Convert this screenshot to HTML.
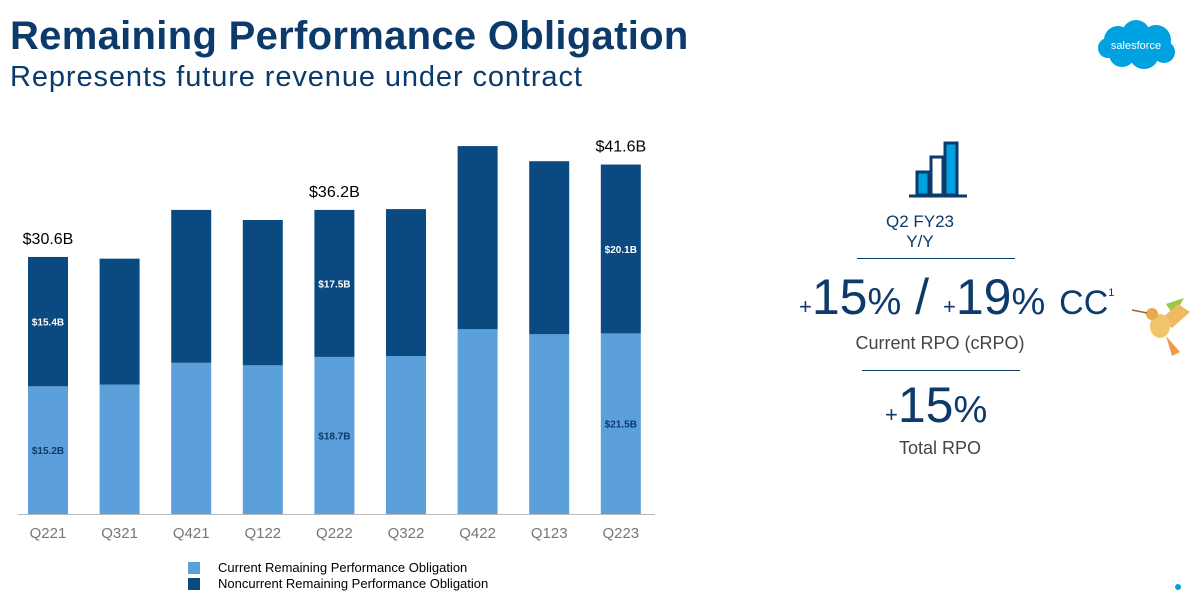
<!DOCTYPE html>
<html><head><meta charset="utf-8">
<style>
body{margin:0;width:1203px;height:601px;background:#fff;font-family:"Liberation Sans",sans-serif;overflow:hidden;position:relative}
.abs{position:absolute}
</style></head>
<body>
<div class="abs" style="left:10px;top:14px;font-size:40px;font-weight:bold;color:#0b3a6b;letter-spacing:0.3px">Remaining Performance Obligation</div>
<div class="abs" style="left:10px;top:61px;font-size:29px;letter-spacing:0.9px;color:#0b3a6b">Represents future revenue under contract</div>
<svg class="abs" style="left:1094px;top:18px" width="84" height="54" viewBox="0 0 84 54">
<g fill="#00a1e0"><circle cx="24" cy="22" r="14"/><circle cx="42" cy="16" r="14"/><circle cx="62" cy="22" r="15"/><circle cx="50" cy="36" r="15"/><circle cx="28" cy="36" r="13"/><circle cx="14" cy="30" r="10"/><circle cx="70" cy="34" r="11"/></g>
<text x="42" y="31" text-anchor="middle" font-size="11" fill="#fff" font-family="Liberation Sans">salesforce</text></svg>

<svg class="abs" id="chart" style="left:0;top:0" width="680" height="601"></svg>

<div class="abs" style="left:188px;top:560px;font-size:13px;color:#000"><span style="display:inline-block;width:12px;height:12px;background:#5ba0db;vertical-align:-2px;margin-right:18px"></span>Current Remaining Performance Obligation</div>
<div class="abs" style="left:188px;top:576px;font-size:13px;color:#000"><span style="display:inline-block;width:12px;height:12px;background:#0b4a80;vertical-align:-2px;margin-right:18px"></span>Noncurrent Remaining Performance Obligation</div>

<svg class="abs" style="left:907px;top:140px" width="62" height="60">
<g stroke="#0b3a6b" stroke-width="3" fill="#00a1e0"><rect x="10" y="32" width="12" height="23"/><rect x="24" y="17" width="12" height="38" fill="#fff"/><rect x="38" y="3" width="12" height="52"/><line x1="2" y1="56" x2="60" y2="56"/></g></svg>
<div class="abs" style="left:850px;top:212px;width:140px;text-align:center;font-size:17px;line-height:20px;color:#0b3a6b">Q2 FY23<br>Y/Y</div>
<div class="abs" style="left:857px;top:258px;width:158px;height:1px;background:#0b3a6b"></div>
<div class="abs" style="left:799px;top:268px;font-size:50px;color:#0b3a6b;white-space:nowrap"><span style="font-size:22px">+</span>15<span style="font-size:38px">%</span> / <span style="font-size:22px">+</span>19<span style="font-size:38px">%</span> <span style="font-size:34px">CC</span><sup style="font-size:11px;vertical-align:18px">1</sup></div>
<div class="abs" style="left:850px;top:333px;width:180px;text-align:center;font-size:18px;color:#444">Current RPO (cRPO)</div>
<div class="abs" style="left:862px;top:370px;width:158px;height:1px;background:#0b3a6b"></div>
<div class="abs" style="left:885px;top:376px;font-size:50px;color:#0b3a6b"><span style="font-size:22px">+</span>15<span style="font-size:38px">%</span></div>
<div class="abs" style="left:880px;top:438px;width:120px;text-align:center;font-size:18px;color:#444">Total RPO</div>
<svg class="abs" style="left:1132px;top:294px" width="62" height="66">
<path d="M34 10 L52 4 L42 22Z" fill="#9cc644"/><path d="M28 26 L46 10 L58 18 L40 34Z" fill="#f0b860"/>
<ellipse cx="28" cy="32" rx="10" ry="12" fill="#f3c56b"/><circle cx="20" cy="20" r="6" fill="#e9a94f"/><line x1="0" y1="16" x2="15" y2="19" stroke="#a06030" stroke-width="1.5"/>
<path d="M34 42 L40 62 L48 58Z" fill="#f19a4a"/></svg>
<div class="abs" style="left:1175px;top:584px;width:6px;height:6px;border-radius:50%;background:#00a1e0"></div>

<script>
const categories=["Q221","Q321","Q421","Q122","Q222","Q322","Q422","Q123","Q223"];
const currentRPO=[15.2,15.4,18.0,17.7,18.7,18.8,22.0,21.4,21.5];
const noncurrentRPO=[15.4,15.0,18.2,17.3,17.5,17.5,21.8,20.6,20.1];
const segLabelIdx=[0,4,8];
const totalLabels={0:"$30.6B",4:"$36.2B",8:"$41.6B"};
const NS="http://www.w3.org/2000/svg";
const svg=document.getElementById('chart');
const base=514,pxPerB=8.4,x0=28,step=71.6,bw=40;
const y=v=>base-v*pxPerB;
const xb=i=>x0+i*step;
function mk(t,a){const e=document.createElementNS(NS,t);for(const k in a)e.setAttribute(k,a[k]);svg.appendChild(e);return e;}
const ax=mk('line',{x1:18,x2:655,y1:base+0.5,y2:base+0.5,stroke:'#bbb','stroke-width':1});


categories.forEach((c,i)=>{
  const tot=currentRPO[i]+noncurrentRPO[i];
  const b1=mk('rect',{x:xb(i),y:y(currentRPO[i]),width:bw,height:currentRPO[i]*pxPerB,fill:'#5ba0db'});
  
  
  const b2=mk('rect',{x:xb(i),y:y(tot),width:bw,height:noncurrentRPO[i]*pxPerB,fill:'#0b4a80'});
  
  
  const t=mk('text',{x:xb(i)+bw/2,y:base+24,'text-anchor':'middle','font-size':15,fill:'#777','font-family':'Liberation Sans'});
  t.textContent=c;
  
  
  if(segLabelIdx.includes(i)){
    const a=mk('text',{x:xb(i)+bw/2,y:y(currentRPO[i]/2)+4,'text-anchor':'middle','font-size':10,'font-weight':'bold',fill:'#0b3a6b','font-family':'Liberation Sans'});
    a.textContent='$'+currentRPO[i].toFixed(1)+'B';
    
    
    const b=mk('text',{x:xb(i)+bw/2,y:y(currentRPO[i]+noncurrentRPO[i]/2)+4,'text-anchor':'middle','font-size':10,'font-weight':'bold',fill:'#fff','font-family':'Liberation Sans'});
    b.textContent='$'+noncurrentRPO[i].toFixed(1)+'B';
    
    
  }
  if(totalLabels[i]){
    const l=mk('text',{x:xb(i)+bw/2,y:y(tot)-13,'text-anchor':'middle','font-size':16,fill:'#000','font-family':'Liberation Sans'});
    l.textContent=totalLabels[i];
    
    
  }
});
</script>
</body></html>
